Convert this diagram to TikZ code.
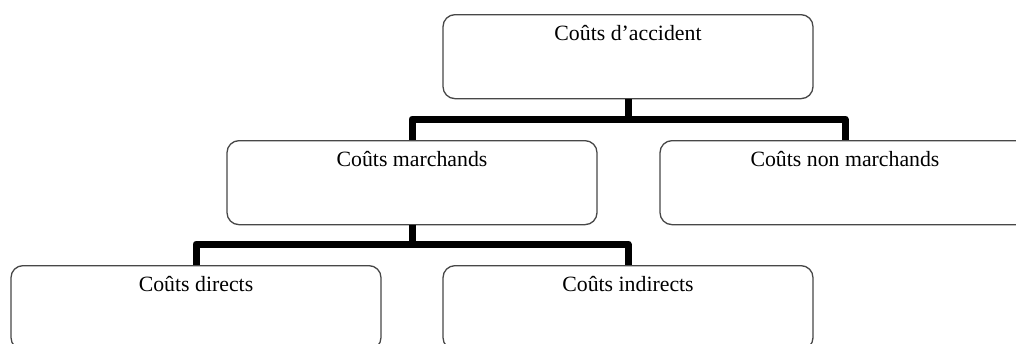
\documentclass[tikz,border=0pt]{standalone}
\usepackage{fontspec}
\setmainfont{Liberation Serif}
\begin{document}
\begin{tikzpicture}[x=1pt,y=-1pt,
  costbox/.style={draw=black!72, line width=1.3pt, rounded corners=12pt,
    minimum width=370pt, inner xsep=0pt, inner ysep=0pt,
    text height=26pt, text depth=58pt, anchor=north,
    font=\fontsize{21.8}{24}\selectfont},
  conn/.style={line width=7pt, line join=round, line cap=butt}]
\useasboundingbox (0,0) rectangle (1016,343);

% boxes of the cost tree
\node[costbox] (acc)  at (628,14)  {Coûts d’accident};
\node[costbox] (mar)  at (412,140) {Coûts marchands};
\node[costbox] (nmar) at (845,140) {Coûts non marchands};
\node[costbox] (dir)  at (196,265) {Coûts directs};
\node[costbox] (ind)  at (628,265) {Coûts indirects};

% junction points of the horizontal bars
\coordinate (j1) at (628,119);
\coordinate (j2) at (412,244);

% first level: accident costs split in two
\draw[conn] (acc.south) -- (j1);
\draw[conn] (mar.north) |- (j1) -| (nmar.north);

% second level: market costs split in two
\draw[conn] (mar.south) -- (j2);
\draw[conn] (dir.north) |- (j2) -| (ind.north);
\end{tikzpicture}
\end{document}
